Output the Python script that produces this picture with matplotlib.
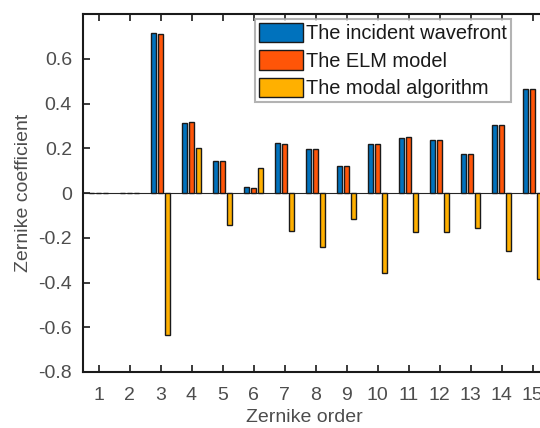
import matplotlib
matplotlib.use("Agg")
import matplotlib.pyplot as plt
import numpy as np

plt.rcParams['font.family'] = ['Liberation Sans', 'DejaVu Sans']

orders = list(range(1, 16))
incident = [0, 0, 0.715, 0.312, 0.143, 0.027, 0.225, 0.198, 0.121, 0.220, 0.247, 0.236, 0.173, 0.303, 0.465]
elm = [0, 0, 0.712, 0.318, 0.143, 0.024, 0.219, 0.195, 0.121, 0.218, 0.250, 0.237, 0.174, 0.303, 0.465]
modal = [0, 0, -0.636, 0.202, -0.141, 0.110, -0.171, -0.240, -0.115, -0.357, -0.175, -0.175, -0.157, -0.259, -0.385]
series_names = ["The incident wavefront", "The ELM model", "The modal algorithm"]
yticks = [-0.8, -0.6, -0.4, -0.2, 0, 0.2, 0.4, 0.6]
ytick_labels = ['-0.8', '-0.6', '-0.4', '-0.2', '0', '0.2', '0.4', '0.6']

W, H = 540, 428
fig = plt.figure(figsize=(W / 100, H / 100), dpi=100)
ax_l, ax_r, ax_t, ax_b = 83, 548, 14, 372
ax = fig.add_axes([ax_l / W, 1 - ax_b / H, (ax_r - ax_l) / W, (ax_b - ax_t) / H])

colors = ['#0072BD', '#FF5508', '#FFB000']
x = np.array(orders, dtype=float)
gw = 0.222
for i, (vals, c, name) in enumerate(zip([incident, elm, modal], colors, series_names)):
    ax.bar(x + (i - 1) * gw, vals, width=gw * 0.82, color=c, edgecolor='#1a1a1a',
           linewidth=1.0, label=name, zorder=3)

ax.axhline(0, color='#262626', linewidth=0.8, zorder=2)
ax.set_xlim(0.5, 15.5)
ax.set_ylim(-0.8, 0.8)
ax.set_xticks(orders)
ax.set_xticklabels([str(o) for o in orders])
ax.set_yticks(yticks)
ax.set_yticklabels(ytick_labels)
for sp in ax.spines.values():
    sp.set_linewidth(1.5)
    sp.set_color('#1a1a1a')
ax.tick_params(axis='both', direction='in', length=5, width=1.2, colors='#1a1a1a',
               labelcolor='#4d4d4d', labelsize=14, top=True, right=True)
ax.tick_params(axis='y', pad=8)
ax.tick_params(axis='x', pad=10.5)

fig.text(304 / W, 1 - 418 / H, 'Zernike order', ha='center', va='center',
         fontsize=14, color='#4d4d4d')
fig.text(24 / W, 1 - 193 / H, 'Zernike coefficient', ha='center', va='center',
         rotation=90, fontsize=14, color='#4d4d4d')

leg = ax.legend(loc='upper left', bbox_to_anchor=((255 - ax_l) / (ax_r - ax_l), 1 - (19 - ax_t) / (ax_b - ax_t)),
                fontsize=14.4, frameon=True, fancybox=False, handlelength=2.2, handleheight=1.1,
                handletextpad=0.15, borderpad=0.2, labelspacing=0.35, borderaxespad=0)
leg.get_frame().set_edgecolor('#a0a0a0')
leg.get_frame().set_linewidth(1.5)
for t in leg.get_texts():
    t.set_color('#1a1a1a')

fig.savefig('out.png', dpi=100)
